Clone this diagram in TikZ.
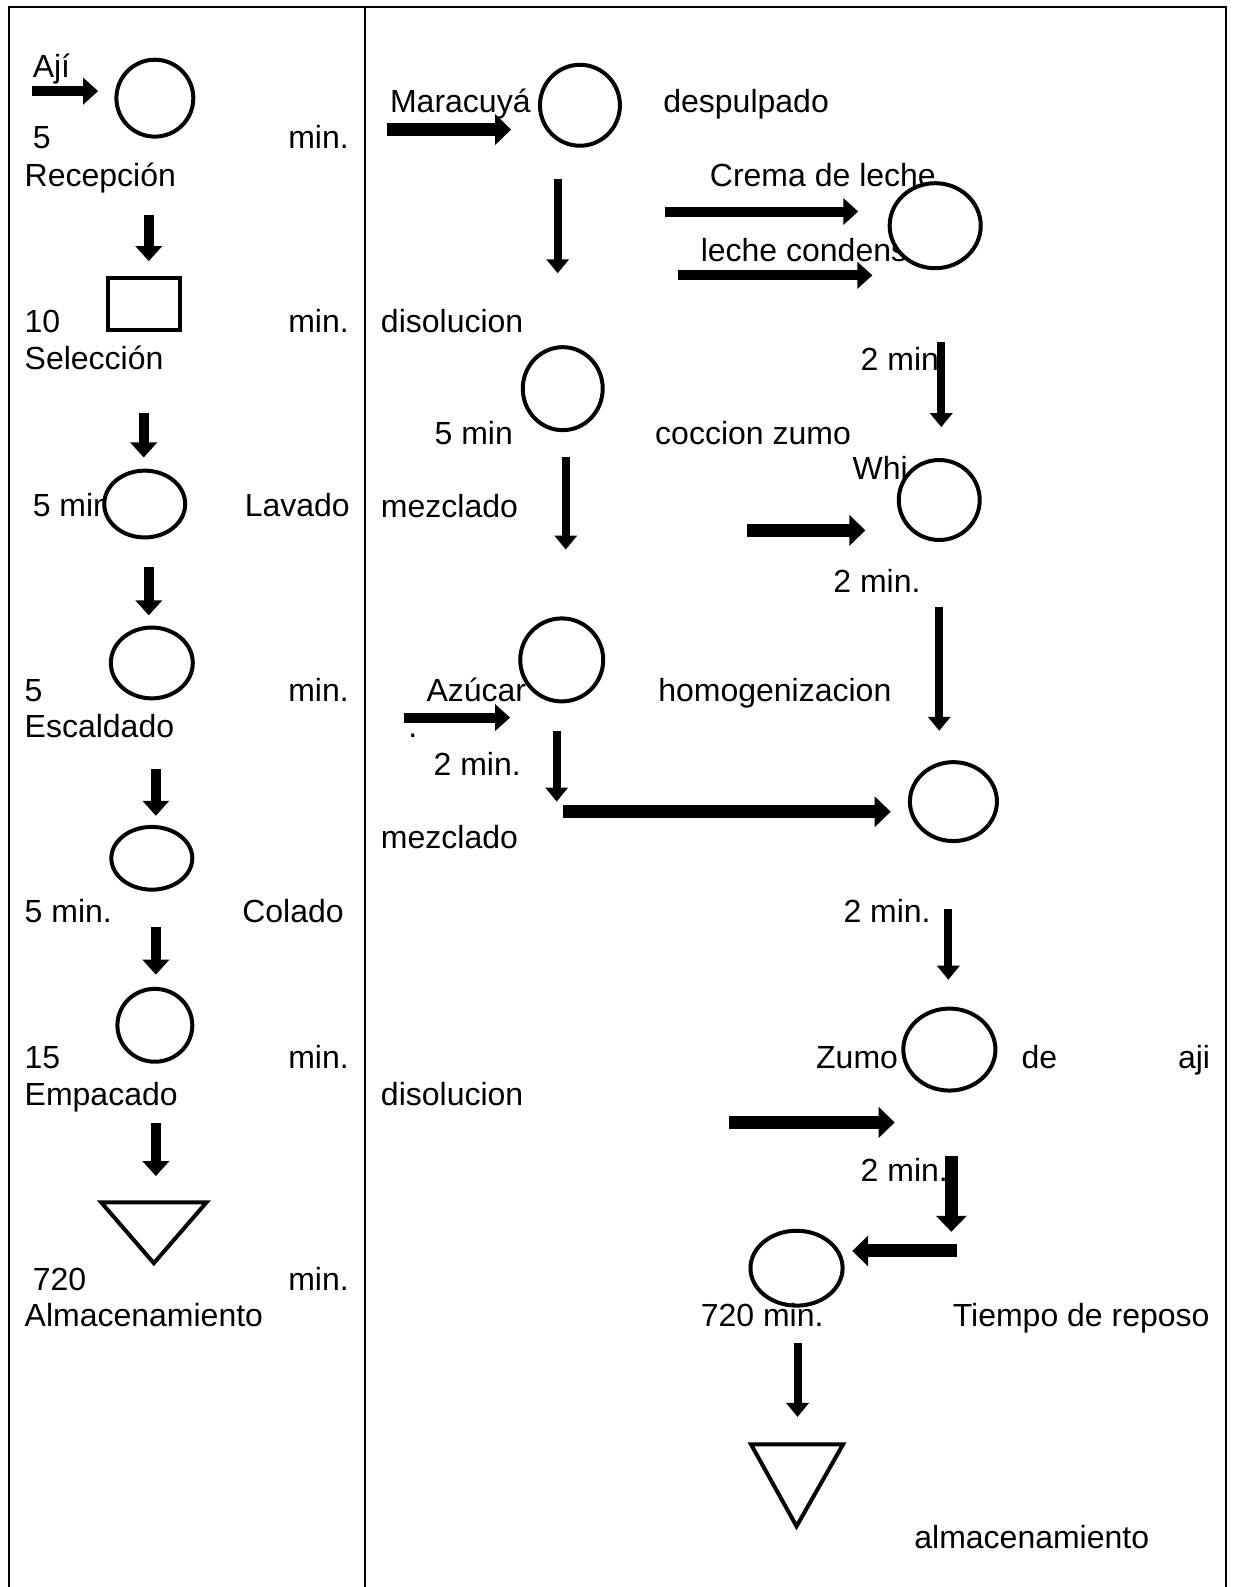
\documentclass[tikz,border=0pt]{standalone}
\usepackage{fontspec}
\setmainfont{Liberation Sans}
\usetikzlibrary{arrows.meta, shapes.geometric}
\newcommand{\upx}{0.506pt}

\tikzset{
  etapa/.style 2 args={ellipse, draw, line width=2pt, fill=white, inner sep=0pt,
    minimum width=#1*\upx, minimum height=#2*\upx},
  caja/.style 2 args={rectangle, draw, line width=2pt, inner sep=0pt,
    minimum width=#1*\upx, minimum height=#2*\upx},
  texto/.style={font=\fontsize{16}{19}\selectfont, inner sep=0pt, anchor=base west},
  textoder/.style={texto, anchor=base east},
  fina/.style={line width=4pt, -{Triangle[length=7pt, width=11pt]}},
  media/.style={line width=5pt, -{Triangle[length=7.5pt, width=13pt]}},
  gruesa/.style={line width=6.5pt, -{Triangle[length=8pt, width=15pt]}},
  almacen/.style={draw, line width=2pt, line join=miter}
}

\begin{document}
\begin{tikzpicture}[x=\upx, y=-\upx]
  \useasboundingbox (0,0) rectangle (1220,1568);
  % marco de la tabla
  \draw[line width=1pt] (9,1568) -- (9,7) -- (1211,7) -- (1211,1568);
  \draw[line width=1pt] (361,7) -- (361,1568);

  % textos tapados por las etapas
  \node[texto] (t5min) at (32,510) {5 min};
  \node[texto] (tleche) at (692,258) {leche condens};
  \node[texto] (twhi) at (842,474) {Whi};
  \node[texto] (tcrema) at (701,184) {Crema de leche};
  \node[texto] (tazucar) at (421,693) {Azúcar};

  % columna izquierda: aji
  \node[etapa={76}{76}] (recepcion) at (153,97) {};
  \node[caja={71}{51}] (seleccion) at (142.5,300.5) {};
  \node[etapa={80}{66}] (lavado) at (143,498) {};
  \node[etapa={81}{70}] (escaldado) at (150,655) {};
  \node[etapa={80}{62}] (colado) at (150,848) {};
  \node[etapa={74}{72}] (empacado) at (153,1013) {};
  \draw[almacen] (100,1188) coordinate (alm1) -- (204,1188) -- (152,1248) -- cycle;

  \node[texto] (taji) at (32,77) {Ají};
  \node[texto] (trec1) at (32,147) {5};
  \node[textoder] (trec2) at (345,147) {min.};
  \node[texto] (trec3) at (24,184) {Recepción};
  \node[texto] (tsel1) at (24,329) {10};
  \node[textoder] (tsel2) at (345,329) {min.};
  \node[texto] (tsel3) at (24,365) {Selección};
  \node[textoder] (tlav) at (346,510) {Lavado};
  \node[texto] (tesc1) at (24,693) {5};
  \node[textoder] (tesc2) at (345,693) {min.};
  \node[texto] (tesc3) at (24,729) {Escaldado};
  \node[texto] (tcol1) at (24,911) {5 min.};
  \node[textoder] (tcol2) at (340,911) {Colado};
  \node[texto] (temp1) at (24,1056) {15};
  \node[textoder] (temp2) at (345,1056) {min.};
  \node[texto] (temp3) at (24,1092) {Empacado};
  \node[texto] (talm1) at (32,1275) {720};
  \node[textoder] (talm2) at (345,1275) {min.};
  \node[texto] (talm3) at (24,1311) {Almacenamiento};

  % columna derecha: maracuya
  \node[etapa={79}{80}] (despulpado) at (573,104) {};
  \node[etapa={90}{84}] (crema) at (924,223) {};
  \node[etapa={79}{82}] (coccion) at (556,384) {};
  \node[etapa={80}{79}] (whisky) at (928,494) {};
  \node[etapa={82}{82}] (homogen) at (555,652) {};
  \node[etapa={86}{78}] (mezcla) at (942,792) {};
  \node[etapa={91}{81}] (zumo) at (938,1037) {};
  \node[etapa={91}{74}] (reposo) at (787,1253) {};
  \draw[almacen] (742,1427) coordinate (alm2) -- (833,1427) -- (787,1508) -- cycle;

  \node[texto] (tmar) at (385,111) {Maracuyá};
  \node[texto] (tdes) at (655,111) {despulpado};
  \node[texto] (tdis1) at (376,329) {disolucion};
  \node[texto] (t2min1) at (850,366) {2 min};
  \node[texto] (t5min2) at (429,439) {5 min};
  \node[texto] (tcoc) at (647,439) {coccion zumo};
  \node[texto] (tmez1) at (376,511) {mezclado};
  \node[texto] (t2min2) at (823,585) {2 min.};
  \node[texto] (thom) at (650,693) {homogenizacion};
  \node[texto] (tpunto) at (403,729) {.};
  \node[texto] (t2min3) at (428,766) {2 min.};
  \node[texto] (tmez2) at (376,838) {mezclado};
  \node[texto] (t2min4) at (833,911) {2 min.};
  \node[texto] (tzumo) at (806,1056) {Zumo};
  \node[texto] (tde) at (1009,1056) {de};
  \node[textoder] (taji2) at (1196,1056) {aji};
  \node[texto] (tdis2) at (376,1092) {disolucion};
  \node[texto] (t2min5) at (850,1167) {2 min.};
  \node[texto] (t720) at (692,1311) {720 min.};
  \node[texto] (trep) at (941,1311) {Tiempo de reposo};
  \node[texto] (talm) at (903,1530) {almacenamiento};

  % flechas
  \foreach \n/\xa/\ya/\xb/\yb in {f1/32/90/97/90, f2/147/212/147/258,
      f3/142/408/142/452, f4/147/560/147/608, f5/154/760/154/806,
      f6/154/916/154/963, f7/154/1110/154/1162, f8/657/209/848/209,
      f9/670/272/862/272, f10/399/709/504/709}{
    \coordinate (\n i) at (\xa,\ya);
    \coordinate (\n f) at (\xb,\yb);
    \draw[media] (\n i) -- (\n f);
  }
  \foreach \n/\xa/\ya/\xb/\yb in {g1/551/177/551/270, g2/930/338/930/422,
      g3/559/452/559/543, g4/928/600/928/722, g5/550/722/550/792,
      g6/937/898/937/968, g7/788/1327/788/1400}{
    \coordinate (\n i) at (\xa,\ya);
    \coordinate (\n f) at (\xb,\yb);
    \draw[fina] (\n i) -- (\n f);
  }
  \foreach \n/\xa/\ya/\xb/\yb in {h1/382/128/505/128, h2/738/524/855/524,
      h3/556/802/880/802, h4/720/1109/884/1109, h5/940/1142/940/1217,
      h6/946/1236/842/1236}{
    \coordinate (\n i) at (\xa,\ya);
    \coordinate (\n f) at (\xb,\yb);
    \draw[gruesa] (\n i) -- (\n f);
  }
\end{tikzpicture}
\end{document}
